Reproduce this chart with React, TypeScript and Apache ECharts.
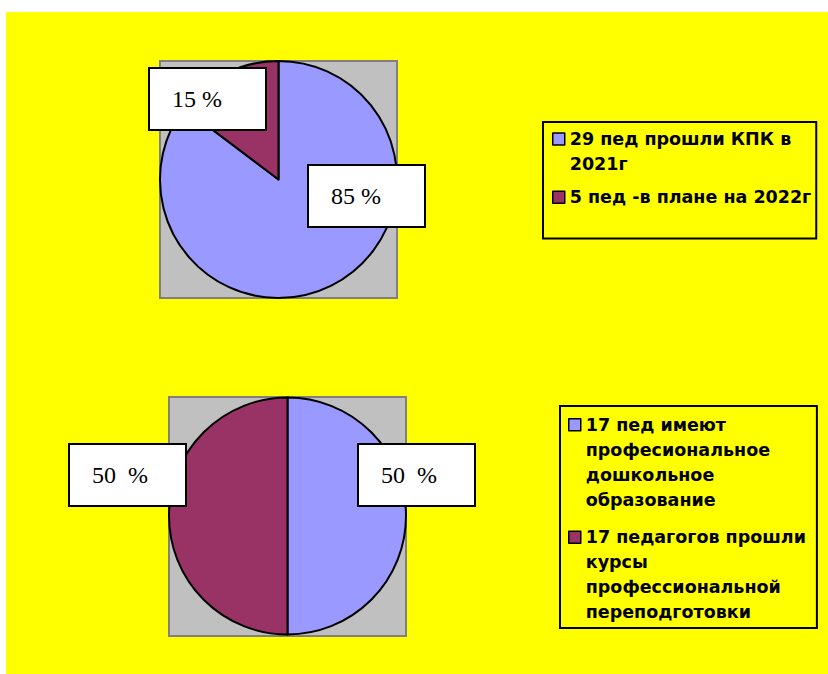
import React, { useEffect, useRef } from "react";
import * as echarts from "echarts";

// ---- data ----
const pie1Names = ["29 пед прошли КПК в 2021г", "5 пед -в плане на 2022г"];
const pie1Values = [29, 5];
const pie2Names = [
  "17 пед имеют професиональное дошкольное образование",
  "17 педагогов прошли курсы профессиональной переподготовки",
];
const pie2Values = [17, 17];
const sliceColors = ["#9999FF", "#993366"];

// legend text as wrapped in the reference
const pie1LegendLines = [["29 пед прошли КПК в", "2021г"], ["5 пед -в плане на 2022г"]];
const pie2LegendLines = [
  ["17 пед имеют", "професиональное", "дошкольное", "образование"],
  ["17 педагогов прошли", "курсы", "профессиональной", "переподготовки"],
];

// ---- layout / style ----
const W = 828;
const H = 674;
const labelFont = { fontFamily: "Liberation Serif, Times New Roman, serif", fontSize: 24, color: "#000" };
const legendFont = {
  fontFamily: "DejaVu Sans, sans-serif",
  fontWeight: "bold" as const,
  fontSize: 17.5,
  lineHeight: 25,
  color: "#000",
};
// top-left corners of label boxes (per pie, per slice)
const labelBoxes1 = [
  [309, 166],
  [150, 69],
];
const labelBoxes2 = [
  [359, 445],
  [70, 445],
];

const iconPath = (h: number, top: number) =>
  `path://M0,0 M0,${h} M0,${top} h12 v12 h-12 Z`;

const wrapper = (names: string[], lines: string[][]) => (name: string) => {
  const i = names.indexOf(name);
  return i >= 0 ? lines[i].join("\n") : name;
};

export default function App() {
  const ref = useRef<HTMLDivElement>(null);
  useEffect(() => {
    if (!ref.current) return;
    const chart = echarts.init(ref.current, null, { renderer: "svg" });

    const labelStyle = (fmt: string) => ({
      show: true,
      position: "inside" as const,
      formatter: fmt,
      ...labelFont,
      backgroundColor: "#FFFFFF",
      borderColor: "#000000",
      borderWidth: 2,
      padding: [0, 0, 0, 22],
      width: 93,
      height: 60,
      lineHeight: 60,
      align: "left" as const,
      verticalAlign: "top" as const,
    });

    const mkData = (names: string[], values: number[]) =>
      names.map((n, i) => ({ name: n, value: values[i], itemStyle: { color: sliceColors[i] } }));

    chart.setOption({
      animation: false,
      backgroundColor: "#FFFFFF",
      graphic: [
        { type: "rect", z: 0, shape: { x: 6, y: 12, width: W - 6, height: H - 12 }, style: { fill: "#FFFF00" } },
        { type: "rect", z: 1, shape: { x: 160, y: 61, width: 237, height: 237 }, style: { fill: "#C0C0C0", stroke: "#808080", lineWidth: 2 } },
        { type: "rect", z: 1, shape: { x: 169, y: 397, width: 237, height: 239 }, style: { fill: "#C0C0C0", stroke: "#808080", lineWidth: 2 } },
      ],
      legend: [
        {
          orient: "vertical",
          left: 543,
          top: 122,
          width: 273,
          height: 120,
          padding: [4.5, 5, 20.5, 9],
          backgroundColor: "#FFFF00",
          borderColor: "#000",
          borderWidth: 2,
          itemWidth: 12,
          itemHeight: 40,
          itemGap: 0,
          selectedMode: false,
          itemStyle: { borderColor: "#000", borderWidth: 1.5 },
          textStyle: { ...legendFont },
          formatter: wrapper(pie1Names, pie1LegendLines),
          data: [
            { name: pie1Names[0], icon: iconPath(40, 1.5) },
            { name: pie1Names[1], icon: iconPath(40, 14) },
          ],
        },
        {
          orient: "vertical",
          left: 560,
          top: 406,
          width: 256,
          height: 230,
          padding: [5.5, 11, 2.5, 8],
          backgroundColor: "#FFFF00",
          borderColor: "#000",
          borderWidth: 2,
          itemWidth: 12,
          itemHeight: 100,
          itemGap: 11,
          selectedMode: false,
          itemStyle: { borderColor: "#000", borderWidth: 1.5 },
          textStyle: { ...legendFont },
          formatter: wrapper(pie2Names, pie2LegendLines),
          data: [
            { name: pie2Names[0], icon: iconPath(100, 6.5) },
            { name: pie2Names[1], icon: iconPath(100, 6.5) },
          ],
        },
      ],
      series: [
        {
          type: "pie",
          z: 2,
          center: [278.5, 179.5],
          radius: 118.5,
          startAngle: 90,
          clockwise: true,
          percentPrecision: 0,
          avoidLabelOverlap: false,
          silent: true,
          itemStyle: { borderColor: "#000", borderWidth: 2 },
          label: labelStyle("{d} %"),
          labelLine: { show: false },
          labelLayout: (p: any) => ({
            x: labelBoxes1[p.dataIndex][0],
            y: labelBoxes1[p.dataIndex][1],
            align: "left",
            verticalAlign: "top",
          }),
          emphasis: { disabled: true },
          data: mkData(pie1Names, pie1Values),
        },
        {
          type: "pie",
          z: 2,
          center: [287.5, 516],
          radius: 118.5,
          startAngle: 90,
          clockwise: true,
          percentPrecision: 0,
          avoidLabelOverlap: false,
          silent: true,
          itemStyle: { borderColor: "#000", borderWidth: 2 },
          label: labelStyle("{d}  %"),
          labelLine: { show: false },
          labelLayout: (p: any) => ({
            x: labelBoxes2[p.dataIndex][0],
            y: labelBoxes2[p.dataIndex][1],
            align: "left",
            verticalAlign: "top",
          }),
          emphasis: { disabled: true },
          data: mkData(pie2Names, pie2Values),
        },
      ],
    });
    return () => chart.dispose();
  }, []);

  return (
    <div
      ref={ref}
      style={{ position: "absolute", left: 0, top: 0, width: W, height: H }}
    />
  );
}
